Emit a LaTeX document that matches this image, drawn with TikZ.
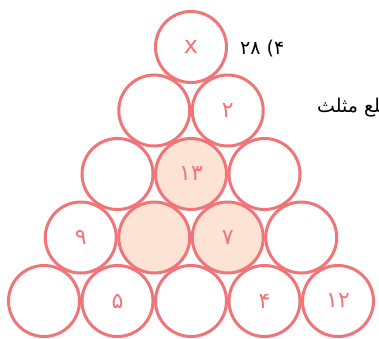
\documentclass[tikz,border=0pt]{standalone}
\usepackage{fontspec}
\TeXXeTstate=1
\newfontfamily\arabicfont[Script=Arabic]{DejaVu Sans}
\newfontfamily\latinsans{DejaVu Sans}
\usetikzlibrary{positioning}
\definecolor{ballred}{HTML}{EF7579}
\definecolor{ballfill}{HTML}{FCE3D3}

\begin{document}
\begin{tikzpicture}[x=1pt,y=-1pt,
    ball/.style={circle, draw=ballred, line width=3pt, minimum size=71pt,
      inner sep=0pt, fill=white, text=ballred, font=\arabicfont\fontsize{22}{22}\selectfont},
    sidetext/.style={anchor=base west, inner sep=0pt, font=\arabicfont\fontsize{19}{19}\selectfont}]
    \useasboundingbox (0,0) rectangle (379,338);
    \def\xo{191}\def\yo{47}\def\dx{73.5}\def\dy{63.5}
    % the triangle of circles, row by row
    \foreach \r/\i/\s/\t in {0/0/white/{\latinsans\fontsize{24}{24}\selectfont x},
        1/0/white/, 1/1/white/۲,
        2/0/white/, 2/1/ballfill/۱۳, 2/2/white/,
        3/0/white/۹, 3/1/ballfill/, 3/2/ballfill/۷, 3/3/white/,
        4/0/white/, 4/1/white/۵, 4/2/white/, 4/3/white/۴, 4/4/white/۱۲}
      \node[ball, fill=\s] (c\r\i) at ({\xo+(\i-\r/2)*\dx},{\yo+\r*\dy}) {\t};
    % texts beside the triangle
    \node[sidetext] (answer) at (240,54) {\beginR ۴{\latinsans(}\ ۲۸\endR};
    \node[sidetext] (question) at (317,112) {\beginR ضلع مثلث\endR};
  \end{tikzpicture}
\end{document}
